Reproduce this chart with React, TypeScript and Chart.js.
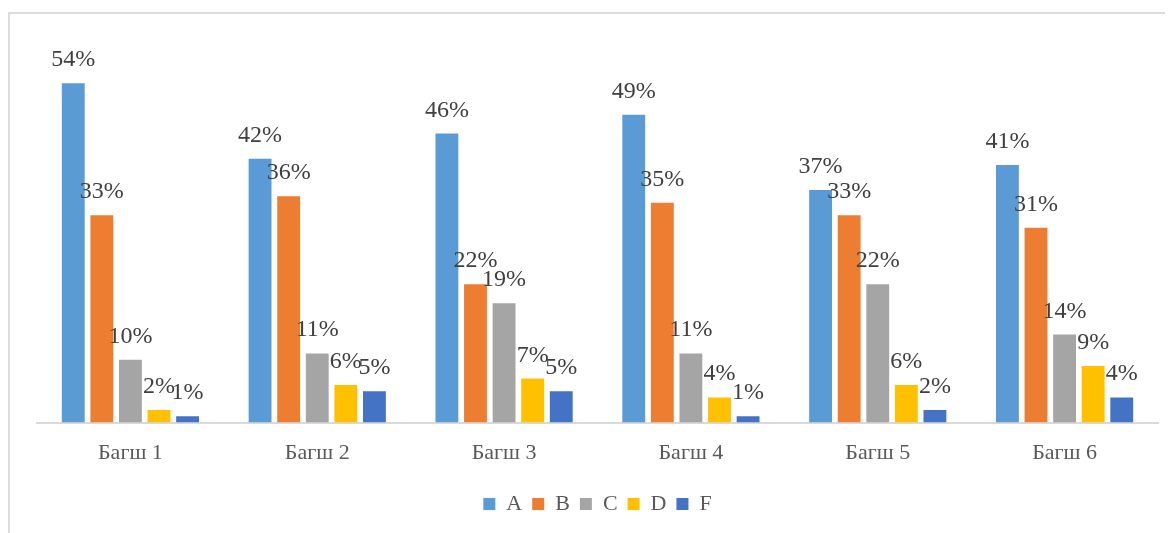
import React, { useEffect, useRef } from "react";
import { Chart, registerables } from "chart.js";

Chart.register(...registerables);

const categories = ["Багш 1", "Багш 2", "Багш 3", "Багш 4", "Багш 5", "Багш 6"];
const seriesNames = ["A", "B", "C", "D", "F"];
const seriesA = [54, 42, 46, 49, 37, 41];
const seriesB = [33, 36, 22, 35, 33, 31];
const seriesC = [10, 11, 19, 11, 22, 14];
const seriesD = [2, 6, 7, 4, 6, 9];
const seriesF = [1, 5, 5, 1, 2, 4];
const seriesColors = ["#5B9BD5", "#ED7D31", "#A5A5A5", "#FFC000", "#4472C4"];

const FONT = "'Liberation Serif', 'Times New Roman', serif";

const dataLabelPlugin = {
  id: "dataLabels",
  afterDatasetsDraw(chart: any) {
    const ctx = chart.ctx;
    ctx.save();
    ctx.font = `24px ${FONT}`;
    ctx.fillStyle = "#404040";
    ctx.textAlign = "center";
    ctx.textBaseline = "alphabetic";
    chart.data.datasets.forEach((ds: any, i: number) => {
      const meta = chart.getDatasetMeta(i);
      meta.data.forEach((bar: any, j: number) => {
        ctx.fillText(`${ds.data[j]}%`, bar.x, bar.y - 17);
      });
    });
    ctx.restore();
  },
};

export default function App() {
  const canvasRef = useRef<HTMLCanvasElement>(null);

  useEffect(() => {
    if (!canvasRef.current) return;
    const all = [seriesA, seriesB, seriesC, seriesD, seriesF];
    const chart = new Chart(canvasRef.current, {
      type: "bar",
      data: {
        labels: categories,
        datasets: all.map((d, i) => ({
          label: seriesNames[i],
          data: d,
          backgroundColor: seriesColors[i],
          borderWidth: 0,
          barPercentage: 0.8,
          categoryPercentage: 0.765,
        })),
      },
      options: {
        animation: false,
        responsive: false,
        maintainAspectRatio: false,
        layout: { padding: { left: 29, right: 15, top: 35, bottom: 8 } },
        plugins: {
          tooltip: { enabled: false },
          legend: {
            position: "bottom",
            labels: {
              font: { family: FONT, size: 22 },
              color: "#595959",
              boxWidth: 12,
              boxHeight: 12,
              padding: 10,
            },
          },
        },
        scales: {
          x: {
            grid: { display: false, drawTicks: false },
            border: { display: true, color: "#d9d9d9", width: 2 },
            ticks: {
              font: { family: FONT, size: 22 },
              color: "#595959",
              padding: 17,
            },
          },
          y: {
            display: false,
            min: 0,
            max: 60.4,
          },
        },
      },
      plugins: [dataLabelPlugin],
    });
    return () => chart.destroy();
  }, []);

  return (
    <div style={{ position: "relative", width: 1165, height: 525 }}>
      <div
        style={{
          position: "absolute",
          left: 0,
          top: 4,
          width: 1200,
          height: 600,
          borderTop: "2px solid #dcdcdc",
          borderLeft: "2px solid #dcdcdc",
          boxSizing: "border-box",
        }}
      />
      <canvas
        ref={canvasRef}
        width={1165}
        height={525}
        style={{ position: "absolute", left: 0, top: 0, width: 1165, height: 525 }}
      />
    </div>
  );
}
